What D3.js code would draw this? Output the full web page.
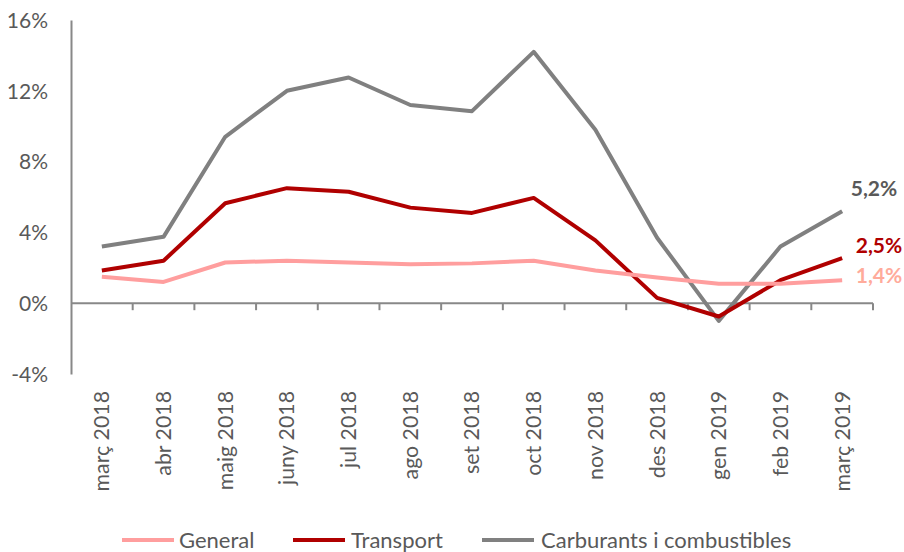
<!DOCTYPE html>
<html>
<head>
<meta charset="utf-8">
<script src="https://cdn.jsdelivr.net/npm/d3@7"></script>
<style>
  body { margin: 0; background: #fff; }
  svg { display: block; }
  text { font-family: Lato, "Open Sans", sans-serif; }
</style>
</head>
<body>
<svg id="chart" width="904" height="552"></svg>
<script>
const categories = ["març 2018","abr 2018","maig 2018","juny 2018","jul 2018","ago 2018","set 2018","oct 2018","nov 2018","des 2018","gen 2019","feb 2019","març 2019"];
const general = [1.5, 1.2, 2.3, 2.4, 2.3, 2.2, 2.25, 2.4, 1.85, 1.45, 1.1, 1.1, 1.3];
const transport = [1.85, 2.4, 5.65, 6.5, 6.3, 5.4, 5.1, 5.95, 3.55, 0.3, -0.75, 1.3, 2.55];
const carburants = [3.2, 3.75, 9.4, 12.0, 12.75, 11.2, 10.85, 14.2, 9.8, 3.7, -1.0, 3.2, 5.2];
const seriesNames = ["General", "Transport", "Carburants i combustibles"];
const endLabels = ["1,4%", "2,5%", "5,2%"];
const yTicks = [-4, 0, 4, 8, 12, 16];

(function () {
const colors = ["#FF9E9E", "#B00000", "#808080"];
const labelColors = ["#FFAB9B", "#B00000", "#595959"];
const series = [general, transport, carburants];

const svg = d3.select("#chart");
const pl = 71, pr = 873, pt = 20, pb = 374;

const x = d3.scaleBand().domain(categories).range([pl, pr]);
const y = d3.scaleLinear().domain([-4, 16]).range([pb, pt]);

// Y axis
const yAxis = svg.append("g").attr("transform", `translate(${pl},0)`)
  .call(d3.axisLeft(y).tickValues(yTicks).tickSize(0).tickPadding(23).tickFormat(d => d + "%"));
yAxis.select(".domain").attr("stroke", "#888").attr("stroke-width", 2);
yAxis.selectAll("text").attr("fill", "#595959").style("font-size", "21px").attr("dy", "0.35em");

// X axis at 0
const xAxisG = svg.append("g").attr("transform", `translate(0,${y(0)})`);
xAxisG.append("line").attr("x1", pl).attr("x2", pr).attr("stroke", "#888").attr("stroke-width", 2);
const boundaries = d3.range(1, categories.length + 1).map(i => pl + i * x.step());
xAxisG.selectAll("line.tick").data(boundaries).enter().append("line")
  .attr("class", "tick").attr("x1", d => d).attr("x2", d => d)
  .attr("y1", 0).attr("y2", 7).attr("stroke", "#888").attr("stroke-width", 2);

// X labels (rotated)
svg.append("g").selectAll("text").data(categories).enter().append("text")
  .attr("transform", d => `translate(${x(d) + x.bandwidth() / 2},391) rotate(-90)`)
  .attr("text-anchor", "end").attr("dy", "0.35em")
  .attr("fill", "#595959").style("font-size", "21.3px")
  .text(d => d);

// Lines
const line = d3.line().x((d, i) => x(categories[i]) + x.bandwidth() / 2).y(d => y(d));
[2, 1, 0].forEach(k => {
  svg.append("path").datum(series[k]).attr("d", line)
    .attr("fill", "none").attr("stroke", colors[k]).attr("stroke-width", 4)
    .attr("stroke-linejoin", "round");
});

// End labels
const endY = [276, 246, 189];
const endX = [879, 879, 874];
endLabels.forEach((t, k) => {
  svg.append("text").attr("x", endX[k]).attr("y", endY[k]).attr("dy", "0.35em")
    .attr("text-anchor", "middle").attr("fill", labelColors[k])
    .style("font-size", "21px").style("font-weight", "bold").text(t);
});

// Legend
const legendItems = [
  { lx: 122, tx: 179 },
  { lx: 293, tx: 351 },
  { lx: 482, tx: 541 }
];
const lg = svg.append("g");
legendItems.forEach((it, k) => {
  lg.append("line").attr("x1", it.lx).attr("x2", it.lx + 52).attr("y1", 540).attr("y2", 540)
    .attr("stroke", colors[k]).attr("stroke-width", 4);
  lg.append("text").attr("x", it.tx).attr("y", 540).attr("dy", "0.35em")
    .attr("fill", "#595959").style("font-size", "22px").text(seriesNames[k]);
});
})();
</script>
</body>
</html>
